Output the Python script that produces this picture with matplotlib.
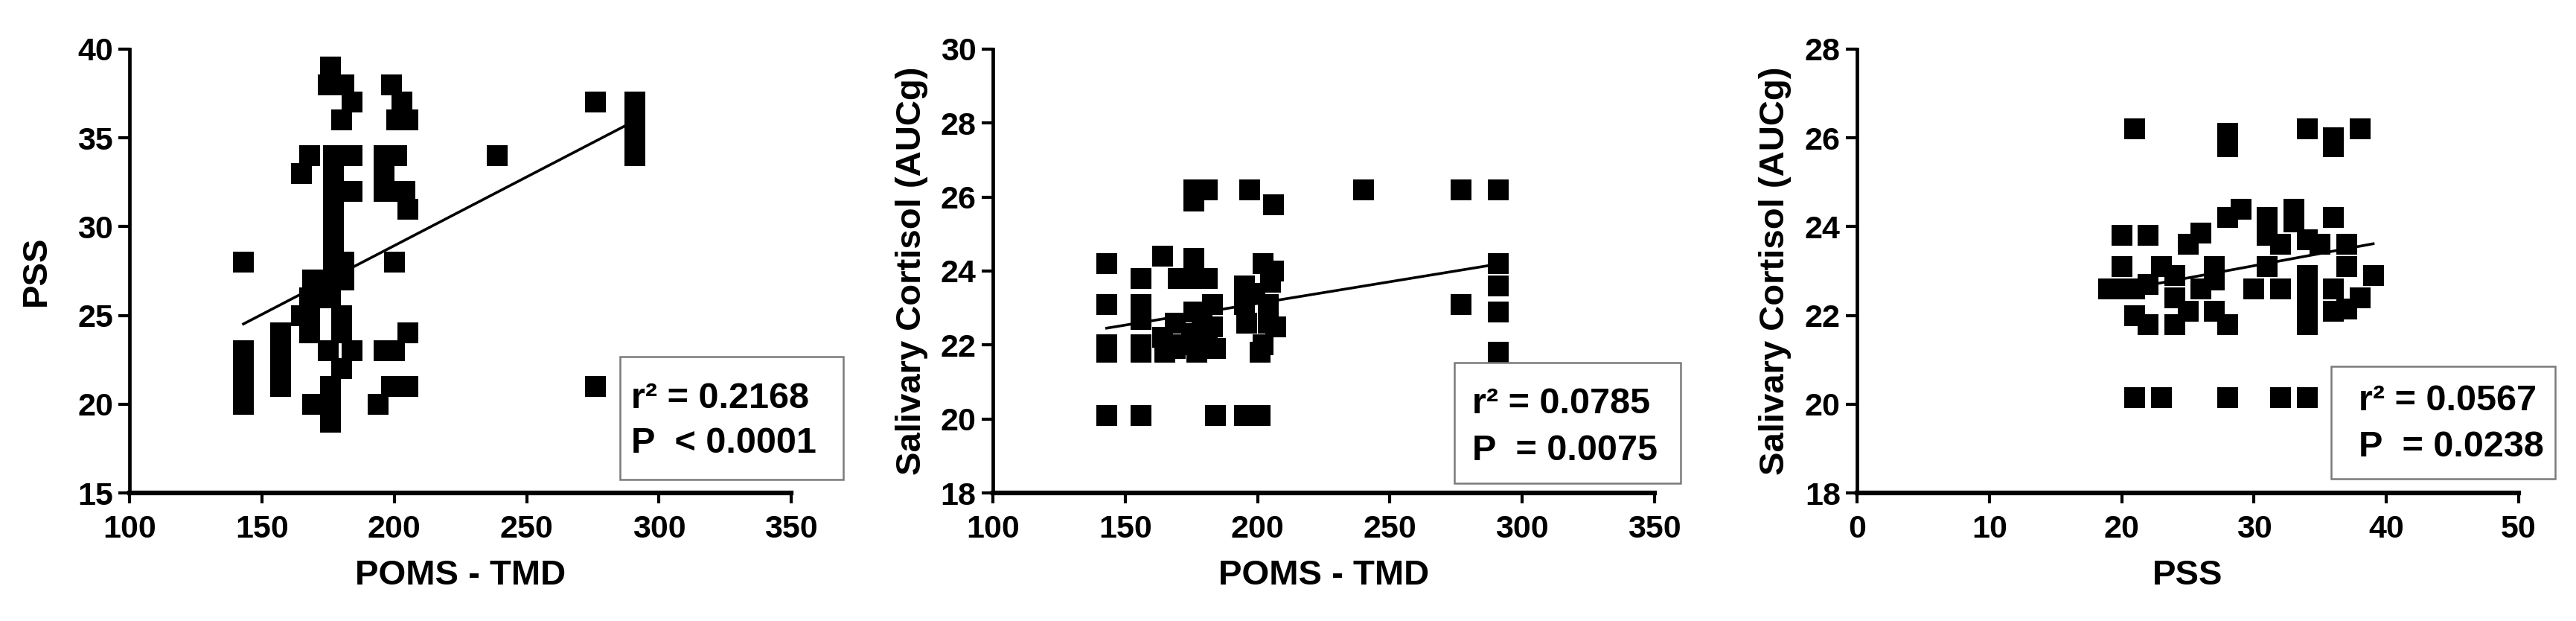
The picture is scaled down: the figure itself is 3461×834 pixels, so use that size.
import matplotlib
matplotlib.use("Agg")
import numpy as np
from matplotlib import pyplot as plt
from matplotlib.patches import Rectangle

plt.rcParams['font.family'] = ['Liberation Sans', 'DejaVu Sans']
plt.rcParams['font.weight'] = 'bold'

# Panel 1: PSS against POMS - TMD
poms_1 = [143, 143, 143, 143, 143,
          157, 157, 157, 157,
          165, 168, 165, 168, 168, 169, 168, 169,
          177, 177, 177, 177, 177, 177, 177, 177, 176, 175, 176, 176, 176,
          181, 181, 180, 180, 180, 184, 184, 184,
          176, 175, 181, 184, 180,
          199, 203, 201, 205,
          196, 201, 196, 196, 204, 205, 200,
          205, 196, 200, 199, 205, 194,
          239, 276, 276, 291, 291, 291, 291]
pss_1 = [20, 21, 22, 23, 28,
         21, 22, 23, 24,
         33, 34, 25, 25, 24, 27, 26, 20,
         34, 33, 32, 31, 30, 29, 28, 27, 26, 23, 21, 20, 19,
         28, 27, 25, 24, 22, 23, 34, 32,
         39, 38, 38, 37, 36,
         38, 37, 36, 36,
         34, 34, 33, 32, 32, 31, 28,
         24, 23, 23, 21, 21, 20,
         34, 37, 21, 34, 35, 36, 37]

# Panel 2: salivary cortisol against POMS - TMD
poms_2 = [143, 143, 143, 143, 143,
          156, 156, 156, 156, 156, 156,
          164, 170, 176, 176, 181,
          164, 169, 176, 183, 183, 184, 177, 169, 165, 175, 181, 172, 179,
          184, 195, 201,
          176, 176, 181, 197, 206,
          202, 195, 205, 195, 204, 196, 204, 207, 202, 201, 199, 206,
          240, 277, 277, 291, 291, 291, 291, 291]
cort_2 = [24.2, 23.1, 22.0, 21.8, 20.1,
          23.8, 23.1, 22.7, 22.0, 21.8, 20.1,
          24.4, 23.8, 24.35, 23.8, 23.8,
          22.2, 22.6, 22.9, 23.1, 22.5, 21.9, 21.8, 21.9, 21.8, 22.3, 22.2, 22.0, 22.6,
          20.1, 20.1, 20.1,
          26.2, 25.9, 26.2, 26.2, 25.8,
          24.2, 23.6, 23.7, 23.1, 23.1, 22.6, 22.6, 22.5, 22.0, 21.8, 23.4, 24.0,
          26.2, 26.2, 23.1, 26.2, 24.2, 23.6, 22.9, 21.8]

# Panel 3: salivary cortisol against PSS
pss_3 = [21, 28, 28, 34, 36, 36, 38,
         21, 23, 28, 32, 34,
         20, 22, 25, 26, 28, 29, 31, 31, 33, 33, 34, 35, 36, 37, 32,
         20, 23, 24, 27, 27, 26, 19, 21, 20, 22, 24, 30, 31, 32,
         34, 34, 34, 34,
         39, 37, 36, 38, 36, 37,
         21, 22, 24, 25, 27, 28]
cort_3 = [26.2, 26.1, 25.8, 26.2, 26.0, 25.8, 26.2,
          20.15, 20.15, 20.15, 20.15, 20.15,
          23.8, 23.8, 23.6, 23.85, 24.2, 24.4, 24.2, 23.8, 24.4, 24.1, 23.7, 23.6, 24.2, 23.6, 23.6,
          23.1, 23.1, 22.9, 23.1, 22.8, 22.6, 22.6, 22.6, 22.6, 22.7, 22.4, 22.6, 23.1, 22.6,
          22.9, 22.5, 22.1, 21.8,
          22.9, 23.1, 22.6, 22.4, 22.1, 22.15,
          22.0, 21.8, 21.8, 22.1, 22.1, 21.8]

fit_slope = [0.0774, 0.01172, 0.055]
fit_icpt = [13.45, 20.78, 21.47]
r2_labels = ["r² = 0.2168", "r² = 0.0785", "r² = 0.0567"]
p_labels = ["P  < 0.0001", "P  = 0.0075", "P  = 0.0238"]
x_labels = ["POMS - TMD", "POMS - TMD", "PSS"]
y_labels = ["PSS", "Salivary Cortisol (AUCg)", "Salivary Cortisol (AUCg)"]
x_ticks = [[100, 150, 200, 250, 300, 350], [100, 150, 200, 250, 300, 350], [0, 10, 20, 30, 40, 50]]
y_ticks = [[15, 20, 25, 30, 35, 40], [18, 20, 22, 24, 26, 28, 30], [18, 20, 22, 24, 26, 28]]

xs = [poms_1, poms_2, pss_3]
ys = [pss_1, cort_2, cort_3]

fig = plt.figure(figsize=(34.62, 8.34), dpi=100)
lefts = [0.0503, 0.3853, 0.7207]
# stats box (x0, y0, x1, y1) and text anchors in axes fraction
boxes = [(0.741, 0.030, 1.079, 0.307), (0.698, 0.022, 1.039, 0.294), (0.716, 0.032, 1.055, 0.286)]
texts = [(0.758, 0.213, 0.111), (0.724, 0.200, 0.094), (0.758, 0.207, 0.104)]
ylabel_pads = [24, 12, 13]

for i in range(3):
    ax = fig.add_axes([lefts[i], 0.2062, 0.2568, 0.7147])
    ax.plot(xs[i], ys[i], 's', color='black', markersize=19.5, markeredgewidth=0, zorder=3)

    xx = np.array([min(xs[i]), max(xs[i])])
    ax.plot(xx, fit_slope[i] * xx + fit_icpt[i], color='black', lw=2.6, zorder=4)

    ax.set_xlim(x_ticks[i][0], x_ticks[i][-1])
    ax.set_ylim(y_ticks[i][0], y_ticks[i][-1])
    ax.set_xticks(x_ticks[i])
    ax.set_yticks(y_ticks[i])
    ax.spines['top'].set_visible(False)
    ax.spines['right'].set_visible(False)
    ax.spines['bottom'].set_linewidth(4.5)
    ax.spines['left'].set_linewidth(3.4)
    ax.tick_params(axis='x', length=10, width=3, labelsize=31, pad=11)
    ax.tick_params(axis='y', length=11, width=3, labelsize=31, pad=5)
    for lab in ax.get_xticklabels() + ax.get_yticklabels():
        lab.set_fontweight('bold')
    ax.set_xlabel(x_labels[i], fontsize=34, fontweight='bold', labelpad=14)
    ax.set_ylabel(y_labels[i], fontsize=34, fontweight='bold', labelpad=ylabel_pads[i])

    x0, y0, x1, y1 = boxes[i]
    ax.add_patch(Rectangle((x0, y0), x1 - x0, y1 - y0, transform=ax.transAxes,
                           facecolor='white', edgecolor='#7a7a7a', lw=1.8,
                           clip_on=False, zorder=5))
    tx, ty1, ty2 = texts[i]
    ax.text(tx, ty1, r2_labels[i], transform=ax.transAxes, ha='left', va='center',
            fontsize=35, fontweight='bold', zorder=6)
    ax.text(tx, ty2, p_labels[i], transform=ax.transAxes, ha='left', va='center',
            fontsize=35, fontweight='bold', zorder=6)

plt.savefig("out.png", dpi=100)
